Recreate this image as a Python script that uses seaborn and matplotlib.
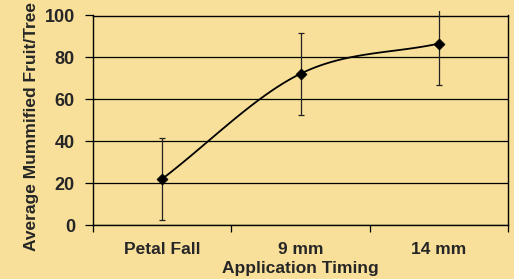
import numpy as np
import pandas as pd
import matplotlib
matplotlib.use("Agg")
import matplotlib.pyplot as plt
import seaborn as sns
from matplotlib.transforms import Bbox, TransformedBbox

categories = ["Petal Fall", "9 mm", "14 mm"]
values = [22.0, 72.2, 86.6]
errors = [19.6, 19.6, 19.6]
yticks = [0, 20, 40, 60, 80, 100]

BG = "#F8DF9A"

sns.set_theme(style="white")
plt.rcParams["font.family"] = ["Liberation Sans", "DejaVu Sans"]

fig = plt.figure(figsize=(5.14, 2.79), dpi=100, facecolor=BG)
ax = fig.add_axes([93/514, 1-225/279, (508-93)/514, (225-15.5)/279])
ax.set_facecolor(BG)

df = pd.DataFrame({"cat": categories, "val": values, "err": errors})
x = np.arange(len(categories), dtype=float)
y = np.array(values)

# Excel-style smoothed line (Catmull-Rom -> cubic Bezier)
P = np.column_stack([x, y])
n = len(P)
tang = np.zeros_like(P)
for i in range(n):
    if i == 0:
        tang[i] = P[1] - P[0]
    elif i == n - 1:
        tang[i] = P[-1] - P[-2]
    else:
        tang[i] = (P[i + 1] - P[i - 1]) / 2
curve = []
t = np.linspace(0, 1, 60)[:, None]
for i in range(n - 1):
    b0 = P[i]
    b1 = P[i] + tang[i] / 3
    b2 = P[i + 1] - tang[i + 1] / 3
    b3 = P[i + 1]
    seg = (1 - t) ** 3 * b0 + 3 * (1 - t) ** 2 * t * b1 + 3 * (1 - t) * t ** 2 * b2 + t ** 3 * b3
    curve.append(seg)
curve = np.vstack(curve)
ax.plot(curve[:, 0], curve[:, 1], color="black", lw=1.3, zorder=3)

eb = ax.errorbar(x, y, yerr=df["err"], fmt="none", ecolor="#222222", elinewidth=0.9,
                 capsize=2.5, capthick=0.9, zorder=3)
clipbox = TransformedBbox(Bbox([[-0.5, -5], [2.5, 102]]), ax.transData)
for art in list(eb.lines[1]) + list(eb.lines[2]):
    art.set_clip_box(clipbox)

sns.scatterplot(data=df, x="cat", y="val", marker="D", s=32, color="black",
                edgecolor="black", ax=ax, zorder=4, clip_on=False)

ax.set_xlim(-0.5, 2.5)
ax.set_ylim(0, 100)
ax.set_yticks(yticks)
ax.set_yticklabels([str(v) for v in yticks], fontsize=13, fontweight="bold")
for v in yticks:
    ax.axhline(v, color="black", lw=0.9, zorder=1)
ax.tick_params(axis="y", length=6, width=0.9, color="black", pad=7, direction="out", left=True)

ax.set_xticks(x)
ax.set_xticklabels(categories, fontsize=12.5, fontweight="bold")
ax.set_xticks([-0.5, 0.5, 1.5, 2.5], minor=True)
ax.tick_params(axis="x", which="major", length=0, pad=12)
ax.tick_params(axis="x", which="minor", length=5, width=0.9, color="black", direction="out", bottom=True)

for s in ax.spines.values():
    s.set_visible(True)
    s.set_color("black")
    s.set_linewidth(1.0)

ax.set_xlabel("Application Timing", fontsize=12.5, fontweight="bold")
ax.xaxis.set_label_coords(0.5, -(260.5 - 225) / 209.5)
ax.set_ylabel("Average Mummified Fruit/Tree", fontsize=12.5, fontweight="bold")
ax.yaxis.set_label_coords(-(93 - 39) / 415, 0.5 - 6.5 / 209.5)

fig.savefig("out.png", dpi=100, facecolor=BG)
